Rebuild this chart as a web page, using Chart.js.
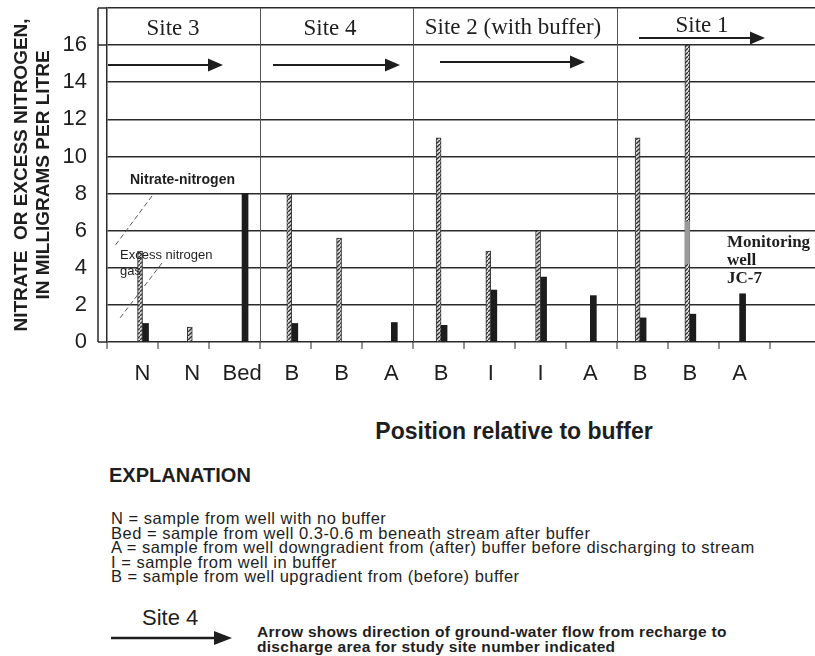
<!DOCTYPE html>
<html>
<head>
<meta charset="utf-8">
<title>Nitrate and excess nitrogen gas by position relative to buffer</title>
<script src="https://cdn.jsdelivr.net/npm/chart.js@4.4.1/dist/chart.umd.min.js"></script>
<style>
  html, body { margin: 0; padding: 0; background: #fff; }
  #wrap { position: relative; width: 815px; height: 656px; overflow: hidden;
          font-family: 'Liberation Sans', Arial, sans-serif; color: #1e1e1e; }
  #chart { position: absolute; left: 0; top: 0; }
  .txt { position: absolute; white-space: nowrap; }
  #xtitle { left: 514px; top: 418px; transform: translateX(-50%); font-size: 23px; font-weight: bold; line-height: 26px; }
  #expl { left: 109px; top: 463px; font-size: 20px; font-weight: bold; line-height: 24px; }
  #defs { left: 111px; top: 511px; font-size: 16.5px; letter-spacing: 0.5px; line-height: 14.6px; }
  #siteKey { left: 142px; top: 605px; font-size: 22px; line-height: 26px; }
  #keyArrow { position: absolute; left: 0; top: 618px; }
  #arrowNote { left: 257px; top: 624px; font-size: 15.5px; letter-spacing: 0.3px; font-weight: bold; line-height: 15px; }
</style>
</head>
<body>
<div id="wrap">
  <canvas id="chart" width="815" height="400"></canvas>
  <div class="txt" id="xtitle">Position relative to buffer</div>
  <div class="txt" id="expl">EXPLANATION</div>
  <div class="txt" id="defs">N = sample from well with no buffer<br>Bed = sample from well 0.3-0.6 m beneath stream after buffer<br>A = sample from well downgradient from (after) buffer before discharging to stream<br>I = sample from well in buffer<br>B = sample from well upgradient from (before) buffer</div>
  <div class="txt" id="siteKey">Site 4</div>
  <svg id="keyArrow" width="260" height="40">
    <line x1="111" y1="20" x2="216" y2="20" stroke="#1e1e1e" stroke-width="2.5"/>
    <polygon points="232,20 214,13 214,27" fill="#1e1e1e"/>
  </svg>
  <div class="txt" id="arrowNote">Arrow shows direction of ground-water flow from recharge to<br>discharge area for study site number indicated</div>
</div>
<script>
// well position codes along the x axis
const positions = ['N', 'N', 'Bed', 'B', 'B', 'A', 'B', 'I', 'I', 'A', 'B', 'B', 'A'];
// excess nitrogen gas (hatched bars), mg/L
const excessN2 = [4.9, 0.8, null, 8.0, 5.6, null, 11.0, 4.9, 6.0, null, 11.0, 16.0, null];
// nitrate-nitrogen (solid bars), mg/L
const nitrateN = [1.0, null, 8.0, 1.0, null, 1.05, 0.9, 2.8, 3.5, 2.5, 1.3, 1.5, 2.6];
const siteNames = ['Site 3', 'Site 4', 'Site 2 (with buffer)', 'Site 1'];
// shaded part of the monitoring well JC-7 bar (index 11)
const jc7Band = [4.2, 6.5];

const INK = '#1e1e1e';
const GRID = '#2a2a2a';

// diagonal hatch for the excess nitrogen bars
const tile = document.createElement('canvas');
tile.width = 4; tile.height = 4;
const tg = tile.getContext('2d');
tg.fillStyle = '#dcdcdc';
tg.fillRect(0, 0, 4, 4);
tg.strokeStyle = '#333';
tg.lineWidth = 1.3;
tg.beginPath();
tg.moveTo(-1, 5); tg.lineTo(5, -1);
tg.stroke();
const hatch = tg.createPattern(tile, 'repeat');

function arrow(ctx, x0, x1, y) {
    ctx.lineWidth = 2.2;
    ctx.beginPath();
    ctx.moveTo(x0, y);
    ctx.lineTo(x1 - 12, y);
    ctx.stroke();
    ctx.beginPath();
    ctx.moveTo(x1, y);
    ctx.lineTo(x1 - 15, y - 6.5);
    ctx.lineTo(x1 - 15, y + 6.5);
    ctx.closePath();
    ctx.fill();
}

const slotWidth = 51;
const siteEdges = [3, 6, 10];

const decorations = {
    id: 'decorations',
    beforeDatasetsDraw(chart) {
        const { ctx, chartArea: a, scales: { y } } = chart;
        ctx.save();
        ctx.strokeStyle = GRID;
        ctx.lineWidth = 1.5;
        // outer frame line on the left and the lines that reach it
        ctx.beginPath();
        ctx.moveTo(98, a.top);
        ctx.lineTo(98, a.bottom);
        [0, 16, 18].forEach(v => {
            const py = y.getPixelForValue(v);
            ctx.moveTo(98, py);
            ctx.lineTo(a.left, py);
        });
        ctx.stroke();

        // tick marks under the axis
        ctx.lineWidth = 1;
        ctx.beginPath();
        for (let k = 0; k < 15; k++) {
            const px = a.left + k * slotWidth;
            ctx.moveTo(px, a.bottom);
            ctx.lineTo(px, a.bottom + 7);
        }
        ctx.stroke();

        // site dividers
        ctx.strokeStyle = '#555';
        ctx.beginPath();
        siteEdges.forEach(k => {
            const px = a.left + k * slotWidth + 0.5;
            ctx.moveTo(px, a.top);
            ctx.lineTo(px, a.bottom);
        });
        ctx.stroke();
        ctx.restore();
    },
    afterDatasetsDraw(chart) {
        const { ctx, scales: { y } } = chart;
        ctx.save();

        // gray band on the JC-7 bar
        const el = chart.getDatasetMeta(0).data[11];
        if (el) {
            const top = y.getPixelForValue(jc7Band[1]);
            const bot = y.getPixelForValue(jc7Band[0]);
            ctx.fillStyle = '#9a9a9a';
            ctx.fillRect(el.x - el.width / 2, top, el.width, bot - top);
        }

        // site headers
        ctx.fillStyle = INK;
        ctx.strokeStyle = INK;
        ctx.font = "23px 'Liberation Serif', 'Times New Roman', serif";
        ctx.textAlign = 'center';
        ctx.textBaseline = 'middle';
        ctx.fillText(siteNames[0], 173, 29);
        ctx.fillText(siteNames[1], 330, 29);
        ctx.fillText(siteNames[2], 513, 28);
        ctx.fillText(siteNames[3], 702, 26);

        // flow direction arrows
        arrow(ctx, 108, 223, 65);
        arrow(ctx, 273, 400, 65);
        arrow(ctx, 440, 585, 62);
        arrow(ctx, 639, 765, 38);

        // labels for the two bar types
        ctx.textAlign = 'left';
        ctx.font = "bold 14px 'Liberation Sans', Arial, sans-serif";
        ctx.fillText('Nitrate-nitrogen', 130, 180);
        ctx.font = "13px 'Liberation Sans', Arial, sans-serif";
        ctx.fillText('Excess nitrogen', 120, 255);
        ctx.fillText('gas', 120, 271);

        ctx.strokeStyle = '#555';
        ctx.lineWidth = 1;
        ctx.setLineDash([5, 3]);
        ctx.beginPath();
        ctx.moveTo(152, 196);
        ctx.lineTo(114, 247);
        ctx.moveTo(162, 263);
        ctx.lineTo(120, 318);
        ctx.stroke();
        ctx.setLineDash([]);

        ctx.fillStyle = INK;
        ctx.font = "bold 17px 'Liberation Serif', 'Times New Roman', serif";
        ctx.fillText('Monitoring', 727, 243);
        ctx.fillText('well', 727, 261);
        ctx.fillText('JC-7', 727, 279);
        ctx.restore();
    }
};

const tickFont = { family: "'Liberation Sans', Arial, sans-serif", size: 22 };

new Chart(document.getElementById('chart'), {
    type: 'bar',
    data: {
        datasets: [{
            label: 'Excess nitrogen gas',
            data: positions.map((_, i) => ({ x: i, y: excessN2[i] })),
            backgroundColor: hatch,
            borderColor: '#333',
            borderWidth: 1,
            barThickness: 5,
        }, {
            label: 'Nitrate-nitrogen',
            data: positions.map((_, i) => ({ x: i, y: nitrateN[i] })),
            backgroundColor: '#1c1c1c',
            borderWidth: 0,
            barThickness: 6,
        }]
    },
    options: {
        responsive: false,
        animation: false,
        layout: { padding: { top: 8, left: 0, right: 0, bottom: 0 } },
        plugins: {
            legend: { display: false },
            tooltip: { enabled: false },
        },
        scales: {
            x: {
                type: 'linear',
                min: -0.167,
                max: 12.968,
                afterBuildTicks: s => { s.ticks = positions.map((_, i) => ({ value: i })); },
                afterFit: s => { s.height = 58; s.paddingLeft = 0; s.paddingRight = 0; },
                ticks: {
                    callback: v => positions[v],
                    autoSkip: false,
                    maxRotation: 0,
                    padding: 11,
                    color: INK,
                    font: tickFont,
                },
                grid: { display: false },
                border: { display: false },
            },
            y: {
                min: 0,
                max: 18,
                afterFit: s => { s.width = 107; s.paddingTop = 0; s.paddingBottom = 0; },
                ticks: {
                    stepSize: 2,
                    callback: v => (v === 18 ? '' : v),
                    padding: 20,
                    color: INK,
                    font: tickFont,
                },
                grid: { color: GRID, lineWidth: 1.5, drawTicks: false },
                border: { color: GRID, width: 1.5 },
                title: {
                    display: true,
                    text: ['NITRATE  OR EXCESS NITROGEN,', 'IN MILLIGRAMS PER LITRE'],
                    color: INK,
                    font: { family: "'Liberation Sans', Arial, sans-serif", size: 19, weight: 'bold', lineHeight: 1.16 },
                    padding: { top: 11, bottom: 0 },
                },
            },
        },
    },
    plugins: [decorations],
});
</script>
</body>
</html>
